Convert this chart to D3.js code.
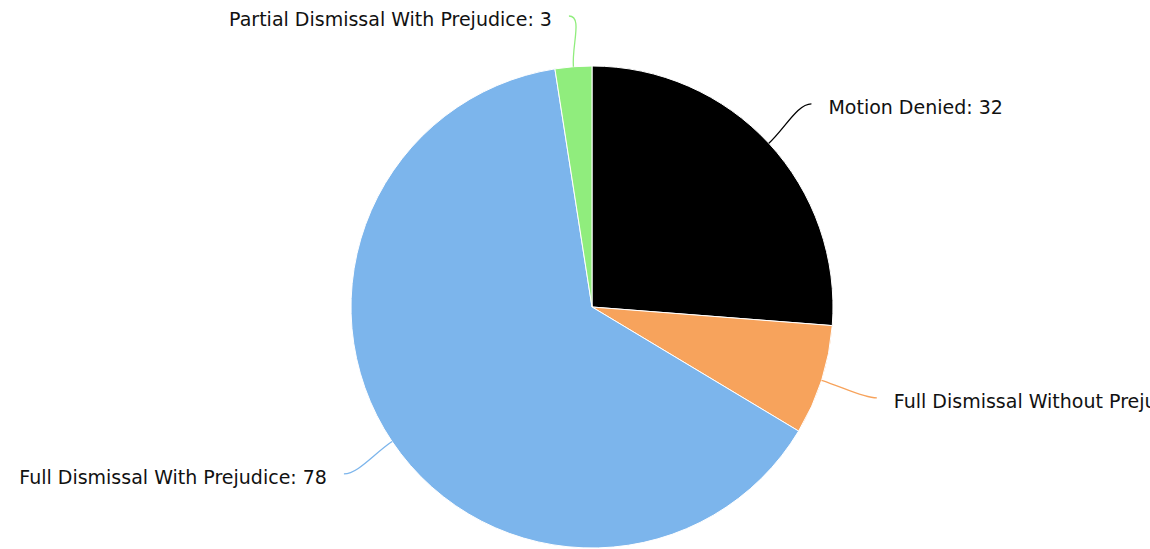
<!DOCTYPE html>
<html>
<head>
<meta charset="utf-8">
<script src="https://cdn.jsdelivr.net/npm/d3@7"></script>
<style>
html,body{margin:0;padding:0;background:#fff;overflow:hidden;}
svg{display:block;}
</style>
</head>
<body>
<svg id="chart" width="1150" height="549"></svg>
<script>
const categories = ["Motion Denied", "Full Dismissal Without Prejudice", "Full Dismissal With Prejudice", "Partial Dismissal With Prejudice"];
const values = [32, 9, 78, 3];
const colors = ["#000000", "#f7a35c", "#7cb5ec", "#90ed7d"];

const W = 1150, H = 549;
const cx = 592, cy = 307, R = 241;
const labelDist = 58, textGap = 17, minLabelY = 16;

const svg = d3.select("#chart");
const g = svg.append("g").attr("transform", `translate(${cx},${cy})`);

const data = categories.map((c, i) => ({name: c, value: values[i], color: colors[i]}));
const pie = d3.pie().sort(null).value(d => d.value).startAngle(0).endAngle(2 * Math.PI);
const arcs = pie(data);
const arc = d3.arc().innerRadius(0).outerRadius(R);

g.selectAll("path.slice").data(arcs).enter().append("path")
  .attr("class", "slice")
  .attr("d", arc)
  .attr("fill", d => d.data.color)
  .attr("stroke", "#ffffff")
  .attr("stroke-width", 1)
  .attr("stroke-linejoin", "round");

function polar(a, r) { return [Math.sin(a) * r, -Math.cos(a) * r]; }

arcs.forEach(d => {
  const a = (d.startAngle + d.endAngle) / 2;
  const right = Math.sin(a) >= 0;
  const p0 = polar(a, R);
  let anchor = polar(a, R + labelDist);
  if (anchor[1] + cy < minLabelY) anchor[1] = minLabelY - cy;
  const c2 = polar(a, R + 22);
  const c1 = [anchor[0] + (right ? -14 : 14), anchor[1]];
  const path = d3.path();
  path.moveTo(anchor[0], anchor[1]);
  path.bezierCurveTo(c1[0], c1[1], c2[0], c2[1], p0[0], p0[1]);
  g.append("path")
    .attr("d", path.toString())
    .attr("fill", "none")
    .attr("stroke", d.data.color)
    .attr("stroke-width", 1.3);
  g.append("text")
    .attr("x", anchor[0] + (right ? textGap : -textGap))
    .attr("y", anchor[1] + 10)
    .attr("text-anchor", right ? "start" : "end")
    .attr("font-family", "DejaVu Sans, sans-serif")
    .attr("font-size", 19)
    .attr("fill", "#111")
    .text(`${d.data.name}: ${d.data.value}`);
});
</script>
</body>
</html>
